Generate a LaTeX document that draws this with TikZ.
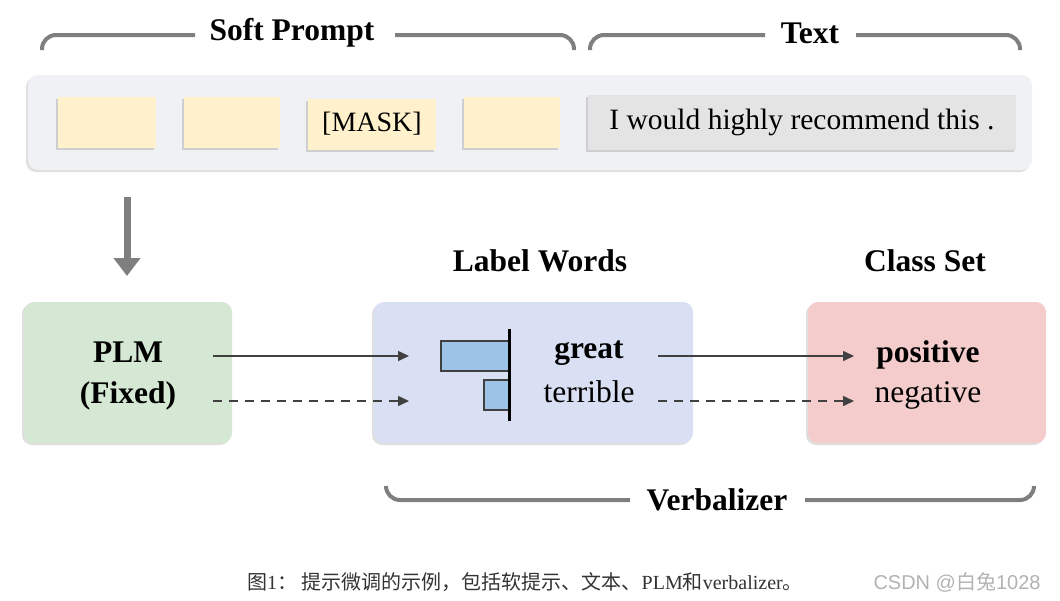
\documentclass[tikz,border=0pt]{standalone}
\usepackage{fontspec}
\setmainfont{Liberation Serif}
\newfontfamily\cjk{Noto Sans CJK SC}
\newfontfamily\wm{Liberation Sans}
\usetikzlibrary{arrows.meta,shadows}
\definecolor{brk}{HTML}{7F7F7F}
\definecolor{outer}{HTML}{F0F1F5}
\definecolor{yel}{HTML}{FFF1CC}
\definecolor{txtbox}{HTML}{E4E4E4}
\definecolor{grn}{HTML}{D5E8D4}
\definecolor{blu}{HTML}{DAE0F3}
\definecolor{red}{HTML}{F4CCCC}
\definecolor{bar}{HTML}{9DC3E6}
\definecolor{dk}{HTML}{404040}
\begin{document}
\begin{tikzpicture}[x=1pt,y=-1pt,
  brace/.style={draw=brk,line width=4pt,rounded corners=14pt},
  title/.style={font=\fontsize{31.5}{33}\selectfont\bfseries},
  box/.style={rounded corners=10pt,drop shadow={shadow xshift=-2pt,shadow yshift=-2pt,opacity=0.25}},
  tok/.style={fill=yel,drop shadow={shadow xshift=-2pt,shadow yshift=-2pt,opacity=0.3},minimum height=51pt,inner sep=0pt},
  conn/.style={draw=dk,line width=1.5pt,-{Triangle[length=11pt,width=10pt]}},
  word/.style={font=\fontsize{31.5}{33}\selectfont}]
\useasboundingbox (0,0) rectangle (1060,600);
% braces
\draw[brace] (42,50) |- (195,35);
\draw[brace] (395,35) -| (574,50);
\node[title] (sp) at (292,33) {Soft Prompt};
\draw[brace] (590,50) |- (765,35);
\draw[brace] (856,35) -| (1020,50);
\node[title] (tx) at (810,33) {Text};
% outer bar
\node[box,fill=outer,minimum width=1004pt,minimum height=95pt,inner sep=0pt] (bar) at (530,122.5) {};
\node[tok,minimum width=98pt] (t1) at (107,122.5) {};
\node[tok,minimum width=96pt] (t2) at (232,122.5) {};
\node[tok,minimum width=128pt,font=\fontsize{28}{30}\selectfont] (t3) at (372,124) {[MASK]};
\node[tok,minimum width=96pt] (t4) at (512,122.5) {};
\node[fill=txtbox,minimum width=428pt,minimum height=55pt,inner sep=0pt,drop shadow={shadow xshift=-2pt,shadow yshift=-2pt,opacity=0.3},font=\fontsize{29.5}{31}\selectfont] (tt) at (802,122.5) {I would highly recommend this .};
% down arrow
\coordinate (da) at (127,197);
\coordinate (db) at (127,276);
\draw[draw=brk,line width=7pt,-{Triangle[length=18pt,width=26pt]}] (da) -- (db);
% bottom boxes
\node[box,fill=grn,minimum width=208pt,minimum height=141pt,inner sep=0pt] (plm) at (128,372.5) {};
\node[align=center,font=\fontsize{31.5}{41}\selectfont\bfseries] (plmt) at (128,376) {PLM\\(Fixed)};
\node[box,fill=blu,minimum width=319pt,minimum height=141pt,inner sep=0pt] (lw) at (533.5,372.5) {};
\node[box,fill=red,minimum width=238pt,minimum height=141pt,inner sep=0pt] (cs) at (927,372.5) {};
\node[title] (lwt) at (540,261) {Label Words};
\node[title] (cst) at (925,261) {Class Set};
% bars
\draw[draw=dk,line width=2pt,fill=bar] (441,341) rectangle (509,371);
\draw[draw=dk,line width=2pt,fill=bar] (484,380) rectangle (509,410);
\draw[black,line width=3pt] (509,329) -- (509,421);
\node[word,font=\fontsize{31.5}{33}\selectfont\bfseries] (gr) at (589,353) {great};
\node[word] (te) at (589,392) {terrible};
\node[word,font=\fontsize{31.5}{33}\selectfont\bfseries] (po) at (928,355) {positive};
\node[word] (ne) at (928,395) {negative};
% arrows
\coordinate (a1) at (213,356); \coordinate (a2) at (409,356);
\coordinate (b1) at (213,401); \coordinate (b2) at (409,401);
\coordinate (c1) at (658,356); \coordinate (c2) at (854,356);
\coordinate (d1) at (658,401); \coordinate (d2) at (854,401);
\draw[conn] (a1) -- (a2);
\draw[conn,dash pattern=on 9pt off 7pt] (b1) -- (b2);
\draw[conn] (c1) -- (c2);
\draw[conn,dash pattern=on 9pt off 7pt] (d1) -- (d2);
% verbalizer brace
\draw[brace] (386,486) |- (630,500);
\draw[brace] (805,500) -| (1034,486);
\node[title] (vb) at (717,500) {Verbalizer};
% caption
\node[font=\fontsize{20}{22}\selectfont,text=black!80] (cap) at (525,582) {{\cjk 图}1{\cjk ：\ 提示微调的示例，包括软提示、文本、}PLM{\cjk 和}verbalizer{\cjk 。}};
\node[font=\wm\fontsize{20}{22}\selectfont,text=black!30] (wm) at (957,582) {CSDN @{\cjk 白兔}1028};
\end{tikzpicture}
\end{document}
